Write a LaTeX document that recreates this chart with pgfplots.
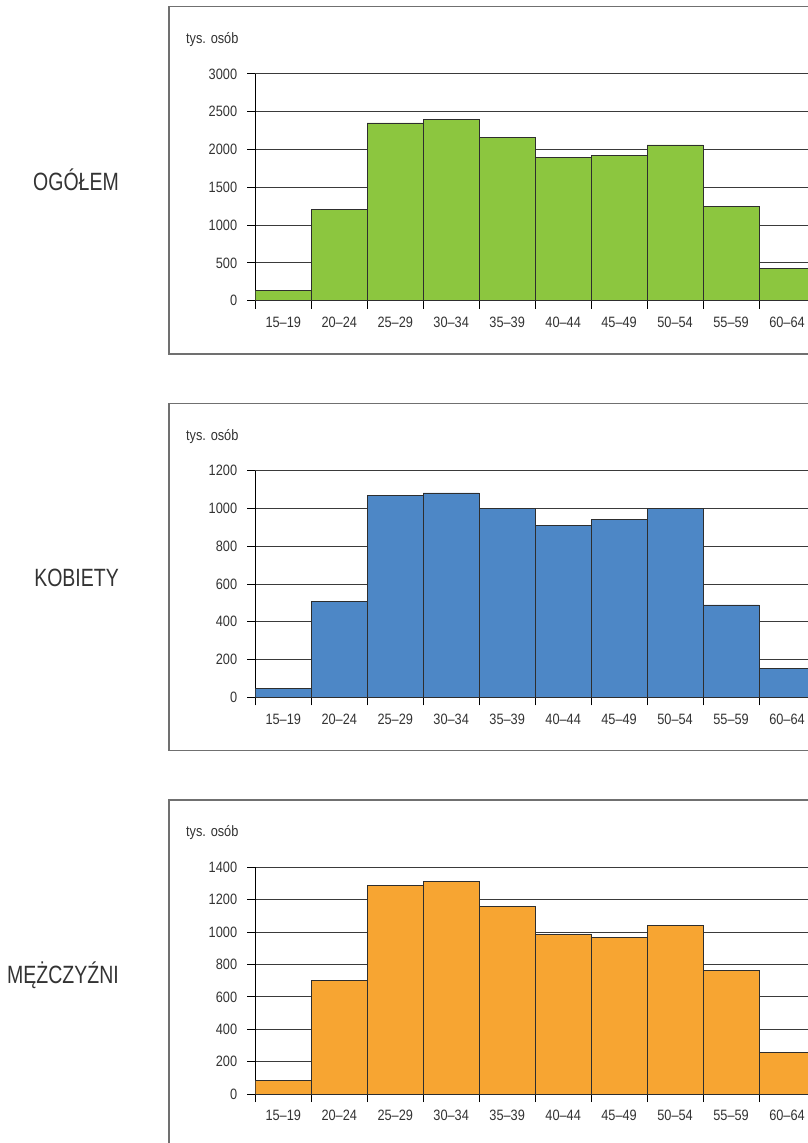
\documentclass[border=0pt]{standalone}
\usepackage{fontspec}
\setmainfont{Liberation Sans}[FakeStretch=0.85]
\newfontfamily\bigfont{Liberation Sans}[FakeStretch=0.78]
\usepackage{pgfplots}
\pgfplotsset{compat=1.18}
\definecolor{gOg}{HTML}{8CC63F}
\definecolor{gKo}{HTML}{4D87C6}
\definecolor{gMe}{HTML}{F7A532}
\definecolor{textgray}{HTML}{333333}
\definecolor{gridgray}{HTML}{3A3A3A}
\definecolor{framegray}{HTML}{707070}
\definecolor{bardraw}{HTML}{2E2E2E}
\newcommand\ticksize{\fontsize{15}{17}\selectfont}
\newcommand\labsize{\fontsize{25}{28}\selectfont}
\pgfplotsset{panel/.style={
  scale only axis, width=559.7pt, height=226.8pt,
  anchor=south west,
  xmin=0, xmax=10, ymin=0,
  axis x line*=bottom, axis y line*=left,
  axis line style={black, line width=0.9pt},
  tick align=outside, major tick length=8pt,
  tick style={black, line width=0.9pt},
  xtick={0,...,10}, x tick label as interval,
  xticklabels={15–19,20–24,25–29,30–34,35–39,40–44,45–49,50–54,55–59,60–64},
  ymajorgrids, grid style={color=gridgray, line width=0.9pt},
  tick label style={font=\ticksize, text=textgray, inner sep=0pt},
  xticklabel style={yshift=-8pt},
  yticklabel style={xshift=-10pt},
  /pgf/number format/assume math mode=true,
  /pgf/number format/1000 sep={},
}}
\begin{document}
\begin{tikzpicture}
\useasboundingbox (0pt,0pt) rectangle (807pt,-1143pt);
\draw[framegray, line width=1.3pt] (169pt,-6.7pt) rectangle (840pt,-354pt);
\draw[framegray, line width=1.3pt] (169pt,-403.4pt) rectangle (840pt,-750.7pt);
\draw[framegray, line width=1.3pt] (169pt,-800.1pt) rectangle (840pt,-1147.4pt);
\node[anchor=base east, inner sep=0pt, font=\bigfont\labsize, text=textgray] at (119pt,-190pt) {OGÓŁEM};
\node[anchor=base east, inner sep=0pt, font=\bigfont\labsize, text=textgray] at (119pt,-586.7pt) {KOBIETY};
\node[anchor=base east, inner sep=0pt, font=\bigfont\labsize, text=textgray] at (119pt,-983.4pt) {MĘŻCZYŹNI};
\node[anchor=base west, inner sep=0pt, font=\ticksize, text=textgray] at (186pt,-43.5pt) {tys. osób};
\node[anchor=base west, inner sep=0pt, font=\ticksize, text=textgray] at (186pt,-440.2pt) {tys. osób};
\node[anchor=base west, inner sep=0pt, font=\ticksize, text=textgray] at (186pt,-836.9pt) {tys. osób};

\begin{axis}[panel, at={(255.3pt,-300.7pt)}, ymax=3000, ytick={0,500,...,3000}]
\addplot[ybar interval, fill=gOg, draw=bardraw, line width=0.8pt] coordinates {
(0,132) (1,1213) (2,2351) (3,2400) (4,2162) (5,1897) (6,1924) (7,2060) (8,1249) (9,428) (10,428)};
\end{axis}

\begin{axis}[panel, at={(255.3pt,-697.4pt)}, ymax=1200, ytick={0,200,...,1200}]
\addplot[ybar interval, fill=gKo, draw=bardraw, line width=0.8pt] coordinates {
(0,46) (1,509) (2,1067) (3,1082) (4,1001) (5,908) (6,943) (7,1001) (8,489) (9,155) (10,155)};
\end{axis}

\begin{axis}[panel, at={(255.3pt,-1094.1pt)}, ymax=1400, ytick={0,200,...,1400}]
\addplot[ybar interval, fill=gMe, draw=bardraw, line width=0.8pt] coordinates {
(0,83) (1,701) (2,1286) (3,1315) (4,1156) (5,987) (6,965) (7,1043) (8,762) (9,258) (10,258)};
\end{axis}
\end{tikzpicture}
\end{document}
